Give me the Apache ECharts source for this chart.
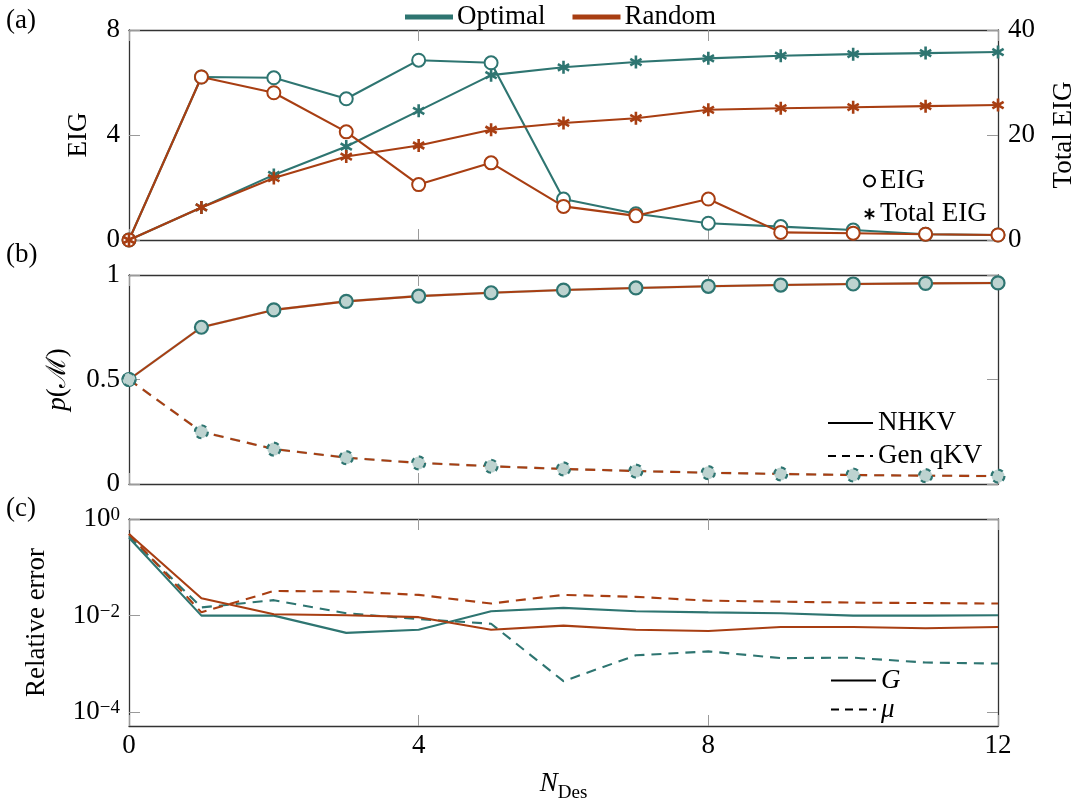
<!DOCTYPE html>
<html>
<head>
<meta charset="utf-8">
<script src="https://cdn.jsdelivr.net/npm/echarts@6/dist/echarts.min.js"></script>
<style>
html,body{margin:0;padding:0;background:#fff;}
#chart{width:1078px;height:805px;}
</style>
</head>
<body>
<div id="chart"></div>
<script>
// ---- data ----
const nDes = [0, 1, 2, 3, 4, 5, 6, 7, 8, 9, 10, 11, 12];
// (a) expected information gain per design and cumulative
const eigOptimal = [0, 6.21, 6.18, 5.38, 6.85, 6.75, 1.56, 1.00, 0.64, 0.51, 0.38, 0.22, 0.19];
const eigRandom = [0, 6.21, 5.61, 4.12, 2.11, 2.94, 1.28, 0.92, 1.56, 0.29, 0.26, 0.22, 0.19];
const totalEigOptimal = [0, 6.2, 12.4, 17.8, 24.6, 31.4, 32.9, 33.9, 34.6, 35.1, 35.4, 35.6, 35.8];
const totalEigRandom = [0, 6.2, 11.8, 15.9, 18.0, 21.0, 22.3, 23.2, 24.8, 25.1, 25.3, 25.5, 25.7];
// (b) model probabilities
const pNhkvOptimal = [0.5, 0.75, 0.833, 0.874, 0.899, 0.915, 0.928, 0.938, 0.946, 0.952, 0.957, 0.960, 0.962];
const pNhkvRandom = [0.5, 0.75, 0.833, 0.874, 0.899, 0.915, 0.928, 0.938, 0.946, 0.952, 0.957, 0.960, 0.962];
const pGenOptimal = [0.5, 0.25, 0.167, 0.126, 0.101, 0.085, 0.072, 0.062, 0.054, 0.048, 0.043, 0.040, 0.038];
const pGenRandom = [0.5, 0.25, 0.167, 0.126, 0.101, 0.085, 0.072, 0.062, 0.054, 0.048, 0.043, 0.040, 0.038];
// (c) relative errors
const errGOptimal = [0.41, 0.0100, 0.0100, 0.0044, 0.0051, 0.0123, 0.0145, 0.0123, 0.0117, 0.0112, 0.0100, 0.0100, 0.0102];
const errGRandom = [0.49, 0.0229, 0.0107, 0.0102, 0.0093, 0.0051, 0.0062, 0.0051, 0.0048, 0.0058, 0.0058, 0.0055, 0.0058];
const errMuOptimal = [0.44, 0.0148, 0.0209, 0.0112, 0.0085, 0.0068, 0.00044, 0.00151, 0.00182, 0.00132, 0.00135, 0.00107, 0.00102];
const errMuRandom = [0.49, 0.0117, 0.0324, 0.0316, 0.0269, 0.0178, 0.0269, 0.0245, 0.0204, 0.0195, 0.0186, 0.0182, 0.0178];
// tick labels
const xTicks = [0, 4, 8, 12];
const errTicks = [1, 0.01, 0.0001];

// ---- styling ----
const TEAL = '#2e7571';
const ORANGE = '#a83e12';
const LIGHT = '#bdd3d0';
const FRAME = '#333333';
const TICK = '#9a9a9a';
const FONT = 'Liberation Serif';
const FS = 27;
const ASTERISK = 'path://M0,-10L0,10M-8.66,-5L8.66,5M-8.66,5L8.66,-5';
const DASH = [10, 7];

const pairs = (ys) => nDes.map((x, i) => [x, ys[i]]);

const gridTops = [30, 275, 519];
const gridHeights = [210, 209, 207];
const grids = gridTops.map((t, i) => ({
  left: 129, right: 80, top: t, height: gridHeights[i],
  containLabel: false, outerBoundsMode: 'none'
}));

const axisLine = {show: true, onZero: false, lineStyle: {color: FRAME, width: 1.3}};
const axisTick = {show: true, inside: true, length: 11, lineStyle: {color: TICK, width: 1}};
const labelStyle = {color: '#000', fontFamily: FONT, fontSize: FS};

const xAxes = [];
for (let g = 0; g < 3; g++) {
  xAxes.push({
    type: 'value', gridIndex: g, position: 'bottom', min: 0, max: 12, interval: 4,
    axisLine, axisTick, splitLine: {show: false},
    axisLabel: Object.assign({show: g === 2, margin: 6}, labelStyle),
    name: g === 2 ? '{n|N}{s|Des}' : '',
    nameLocation: 'middle', nameGap: 44,
    nameTextStyle: {
      rich: {
        n: {fontFamily: FONT, fontSize: FS, fontStyle: 'italic', color: '#000', lineHeight: 27, verticalAlign: 'top'},
        s: {fontFamily: FONT, fontSize: 19, color: '#000', lineHeight: 19, padding: [14, 0, 0, 0], verticalAlign: 'top'}
      }
    }
  });
  xAxes.push({
    type: 'value', gridIndex: g, position: 'top', min: 0, max: 12, interval: 4,
    axisLine, axisTick, splitLine: {show: false}, axisLabel: {show: false}
  });
}

const supLabel = (v) => {
  const e = Math.round(Math.log10(v));
  const s = e < 0 ? '\u2212' + (-e) : String(e);
  return '{b|10}{e|' + s + '}';
};

const yAxes = [
  { // 0: EIG
    type: 'value', gridIndex: 0, position: 'left', min: 0, max: 8, interval: 4,
    axisLine, axisTick, splitLine: {show: false},
    axisLabel: Object.assign({margin: 9}, labelStyle),
    name: 'EIG', nameLocation: 'middle', nameGap: 37, nameRotate: 90,
    nameTextStyle: labelStyle
  },
  { // 1: Total EIG
    type: 'value', gridIndex: 0, position: 'right', min: 0, max: 40, interval: 20,
    axisLine, axisTick, splitLine: {show: false},
    axisLabel: Object.assign({margin: 10}, labelStyle),
    name: 'Total EIG', nameLocation: 'middle', nameGap: 52, nameRotate: 90,
    nameTextStyle: labelStyle
  },
  { // 2: p(M)
    type: 'value', gridIndex: 1, position: 'left', min: 0, max: 1, interval: 0.5,
    axisLine, axisTick, splitLine: {show: false},
    axisLabel: Object.assign({margin: 9}, labelStyle),
    name: '{i|p}(\u2133)', nameLocation: 'middle', nameGap: 58, nameRotate: 90,
    nameTextStyle: Object.assign({}, labelStyle, {
      rich: {i: {fontFamily: FONT, fontSize: FS, fontStyle: 'italic', color: '#000'}}
    })
  },
  { // 3: mirror
    type: 'value', gridIndex: 1, position: 'right', min: 0, max: 1, interval: 0.5,
    axisLine, axisTick, splitLine: {show: false}, axisLabel: {show: false}
  },
  { // 4: relative error (log)
    type: 'log', logBase: 10, gridIndex: 2, position: 'left', min: 5.2e-5, max: 1,
    axisLine, splitLine: {show: false},
    axisTick: Object.assign({}, axisTick, {customValues: errTicks}),
    axisLabel: {
      margin: 9, customValues: errTicks, formatter: supLabel,
      rich: {
        b: {fontFamily: FONT, fontSize: FS, color: '#000', lineHeight: 27, padding: [6, 0, 0, 0], verticalAlign: 'bottom'},
        e: {fontFamily: FONT, fontSize: 19, color: '#000', lineHeight: 19, verticalAlign: 'top'}
      }
    },
    name: 'Relative error', nameLocation: 'middle', nameGap: 79, nameRotate: 90,
    nameTextStyle: labelStyle
  },
  { // 5: mirror log
    type: 'log', logBase: 10, gridIndex: 2, position: 'right', min: 5.2e-5, max: 1,
    axisLine, splitLine: {show: false},
    axisTick: Object.assign({}, axisTick, {customValues: errTicks}),
    axisLabel: {show: false}
  }
];

const lineS = (name, xi, yi, data, color, extra) => Object.assign({
  name, type: 'line', xAxisIndex: xi, yAxisIndex: yi, data,
  lineStyle: {color, width: 2.1}, itemStyle: {color, borderColor: color, borderWidth: 2},
  symbol: 'none', z: 2, animation: false
}, extra || {});

const series = [
  // (a)
  lineS('Optimal', 0, 0, pairs(eigOptimal), TEAL, {symbol: 'emptyCircle', symbolSize: 13, z: 2}),
  lineS('Optimal', 0, 1, pairs(totalEigOptimal), TEAL, {
    symbol: ASTERISK, symbolSize: 13, symbolKeepAspect: true, z: 2,
    itemStyle: {color: TEAL, borderColor: TEAL, borderWidth: 2.6}
  }),
  lineS('Random', 0, 0, pairs(eigRandom), ORANGE, {symbol: 'emptyCircle', symbolSize: 13, z: 3}),
  lineS('Random', 0, 1, pairs(totalEigRandom), ORANGE, {
    symbol: ASTERISK, symbolSize: 13, symbolKeepAspect: true, z: 3,
    itemStyle: {color: ORANGE, borderColor: ORANGE, borderWidth: 2.6}
  }),
  // (b)
  lineS('Optimal', 2, 2, pairs(pNhkvOptimal), LIGHT, {z: 2, lineStyle: {color: LIGHT, width: 2.5}}),
  lineS('Optimal', 2, 2, pairs(pGenOptimal), LIGHT, {z: 2, lineStyle: {color: LIGHT, width: 2.5, type: DASH}}),
  lineS('Random', 2, 2, pairs(pNhkvRandom), ORANGE, {z: 3}),
  lineS('Random', 2, 2, pairs(pGenRandom), ORANGE, {z: 3, lineStyle: {color: ORANGE, width: 2.1, type: DASH}}),
  lineS('Optimal', 2, 2, pairs(pNhkvOptimal), TEAL, {
    z: 4, symbol: 'circle', symbolSize: 13, lineStyle: {opacity: 0},
    itemStyle: {color: LIGHT, borderColor: TEAL, borderWidth: 2.2}
  }),
  lineS('Optimal', 2, 2, pairs(pGenOptimal), TEAL, {
    z: 4, symbol: 'circle', symbolSize: 13, lineStyle: {opacity: 0},
    itemStyle: {color: LIGHT, borderColor: TEAL, borderWidth: 2.2, borderType: [5, 5]}
  }),
  // (c)
  lineS('Optimal', 4, 4, pairs(errGOptimal), TEAL),
  lineS('Optimal', 4, 4, pairs(errMuOptimal), TEAL, {lineStyle: {color: TEAL, width: 2.1, type: DASH}}),
  lineS('Random', 4, 4, pairs(errGRandom), ORANGE, {z: 3}),
  lineS('Random', 4, 4, pairs(errMuRandom), ORANGE, {z: 3, lineStyle: {color: ORANGE, width: 2.1, type: DASH}}),
  // legend keys (black markers / line styles)
  lineS('EIG', 0, 0, [], '#000', {symbol: 'emptyCircle'}),
  lineS('Total EIG', 0, 0, [], '#000', {symbol: ASTERISK, itemStyle: {color: '#000', borderColor: '#000', borderWidth: 2.6}}),
  lineS('NHKV', 2, 2, [], '#000'),
  lineS('Gen qKV', 2, 2, [], '#000', {lineStyle: {color: '#000', width: 2, type: [8, 6]}}),
  lineS('G', 4, 4, [], '#000'),
  lineS('\u03bc', 4, 4, [], '#000', {lineStyle: {color: '#000', width: 2, type: [8, 6]}})
];

const legendText = (lh) => ({color: '#000', fontFamily: FONT, fontSize: FS, lineHeight: lh});
const hideSymbol = {opacity: 0};

const legends = [
  {
    data: ['Optimal', 'Random'], left: 400, top: -2, orient: 'horizontal',
    icon: 'rect', itemWidth: 46, itemHeight: 3, itemGap: 27,
    textStyle: legendText(28), selectedMode: false
  },
  {
    data: [{name: 'EIG', icon: 'emptyCircle'}, {name: 'Total EIG', icon: ASTERISK}],
    left: 858, top: 161, orient: 'vertical', itemWidth: 11, itemHeight: 11, itemGap: 3,
    itemStyle: {borderWidth: 2},
    textStyle: legendText(30), selectedMode: false
  },
  {
    data: ['NHKV', 'Gen qKV'], left: 822, top: 403, orient: 'vertical',
    itemWidth: 45, itemHeight: 14, itemGap: 3, itemStyle: hideSymbol,
    textStyle: legendText(30), selectedMode: false
  },
  {
    data: [{name: 'G', textStyle: {fontStyle: 'italic'}}, {name: '\u03bc', textStyle: {fontStyle: 'italic'}}],
    left: 825, top: 662, orient: 'vertical', itemStyle: hideSymbol,
    itemWidth: 45, itemHeight: 14, itemGap: 2,
    textStyle: legendText(26), selectedMode: false
  }
];

const panelLabel = (txt, y) => ({
  type: 'text', left: 6, top: y - 13,
  style: {text: txt, fill: '#000', font: FS + 'px "' + FONT + '"'}
});

const chart = echarts.init(document.getElementById('chart'), null, {renderer: 'canvas'});
chart.setOption({
  animation: false,
  backgroundColor: '#fff',
  grid: grids,
  xAxis: xAxes,
  yAxis: yAxes,
  legend: legends,
  series,
  graphic: [panelLabel('(a)', 20), panelLabel('(b)', 254), panelLabel('(c)', 508)]
});
</script>
</body>
</html>
